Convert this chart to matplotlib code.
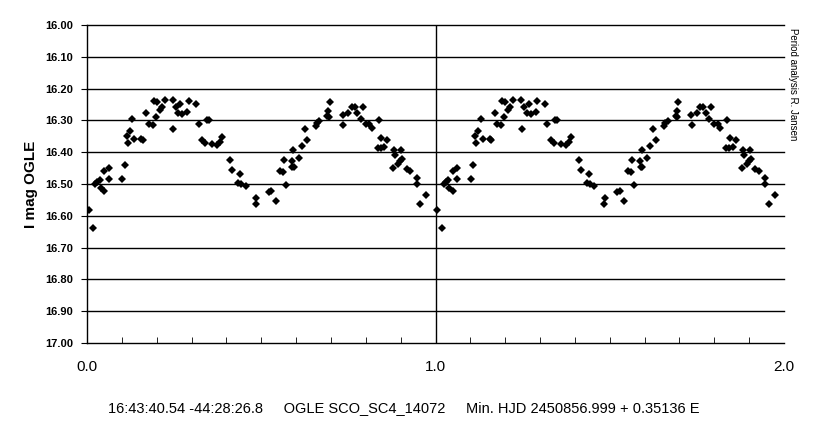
import numpy as np
import matplotlib.pyplot as plt
from matplotlib.ticker import MultipleLocator, FixedLocator

plt.rcParams['font.family'] = ['Liberation Sans', 'DejaVu Sans']

# phase and I magnitude for one cycle (plotted twice, 0-1 and 1-2)
phase = [0.005, 0.018, 0.023, 0.030, 0.036, 0.039, 0.049, 0.049, 0.063, 0.063,
         0.101, 0.109, 0.114, 0.122, 0.117, 0.130, 0.135, 0.156, 0.160, 0.170,
         0.177, 0.188, 0.192, 0.200, 0.197, 0.209, 0.214, 0.223, 0.246, 0.248,
         0.254, 0.268, 0.262, 0.274, 0.287, 0.292, 0.314, 0.320, 0.343, 0.350,
         0.330, 0.340, 0.360, 0.374, 0.383, 0.388, 0.411, 0.417, 0.440, 0.434,
         0.443, 0.456, 0.486, 0.484, 0.522, 0.529, 0.542, 0.570, 0.553, 0.561,
         0.565, 0.587, 0.589, 0.593, 0.592, 0.607, 0.616, 0.632, 0.625, 0.656,
         0.659, 0.666, 0.690, 0.694, 0.692, 0.696, 0.734, 0.735, 0.750, 0.759,
         0.769, 0.775, 0.791, 0.785, 0.800, 0.810, 0.817, 0.837, 0.845, 0.862,
         0.834, 0.843, 0.853, 0.881, 0.885, 0.902, 0.879, 0.893, 0.899, 0.905,
         0.917, 0.928, 0.946, 0.946, 0.974, 0.956]
mag = [16.582, 16.638, 16.500, 16.495, 16.487, 16.514, 16.522, 16.459, 16.450, 16.485,
       16.484, 16.440, 16.348, 16.333, 16.370, 16.296, 16.358, 16.358, 16.361, 16.276,
       16.310, 16.314, 16.238, 16.242, 16.288, 16.267, 16.257, 16.235, 16.235, 16.326,
       16.258, 16.247, 16.276, 16.280, 16.275, 16.238, 16.250, 16.310, 16.300, 16.300,
       16.361, 16.372, 16.373, 16.377, 16.368, 16.352, 16.426, 16.455, 16.468, 16.497,
       16.499, 16.505, 16.543, 16.563, 16.526, 16.522, 16.554, 16.503, 16.458, 16.463,
       16.424, 16.429, 16.445, 16.447, 16.393, 16.417, 16.380, 16.361, 16.326, 16.319,
       16.308, 16.301, 16.287, 16.290, 16.269, 16.242, 16.282, 16.314, 16.276, 16.257,
       16.257, 16.276, 16.257, 16.296, 16.310, 16.310, 16.324, 16.298, 16.355, 16.362,
       16.387, 16.387, 16.384, 16.393, 16.409, 16.393, 16.449, 16.436, 16.427, 16.421,
       16.452, 16.459, 16.481, 16.501, 16.535, 16.563]

x = np.concatenate([phase, np.array(phase) + 1.0])
y = np.concatenate([mag, mag])

fig = plt.figure(figsize=(8.15, 4.23), dpi=100)
ax = fig.add_axes([87/815, 1 - 343/423, 697/815, 318/423])

yt = np.arange(16.0, 17.01, 0.1)
for v in yt[:-1]:
    ax.axhline(v, color='black', lw=1, zorder=1, clip_on=False)
ax.axvline(1.0, color='black', lw=1, zorder=1)

ax.plot(x, y, 'D', color='black', ms=4.2, mew=0, zorder=3)

ax.set_xlim(0, 2)
ax.set_ylim(17.0, 16.0)

ax.xaxis.set_major_locator(FixedLocator([0, 1, 2]))
ax.xaxis.set_minor_locator(MultipleLocator(0.1))
ax.set_xticklabels(['0.0', '1.0', '2.0'], fontsize=11)
ax.tick_params(axis='x', which='both', direction='in', length=4, pad=12)
ax.tick_params(axis='x', which='major', length=0)

ax.set_yticks(yt)
ax.set_yticklabels(['%.2f' % v for v in yt], fontsize=8, fontweight='bold')
ax.tick_params(axis='y', direction='out', length=4, pad=6)

for s in ['top', 'right']:
    ax.spines[s].set_visible(False)
ax.spines['bottom'].set_linewidth(1)
ax.spines['left'].set_linewidth(1)

ax.set_ylabel('I mag OGLE', fontsize=11, fontweight='bold')
ax.yaxis.set_label_coords(-0.07, 0.5)

fig.text(404/815, 1 - 408/423,
         '16:43:40.54 -44:28:26.8     OGLE SCO_SC4_14072     Min. HJD 2450856.999 + 0.35136 E',
         ha='center', va='center', fontsize=10.5)
fig.text(793/815, 1 - 28/423, 'Period analysis R. Jansen', rotation=-90,
         ha='center', va='top', fontsize=7)

plt.savefig('out.png', dpi=100)
